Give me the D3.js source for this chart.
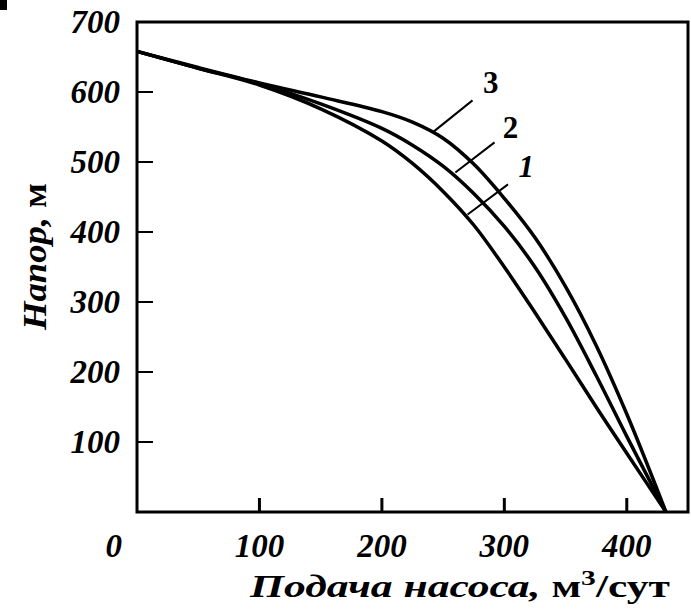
<!DOCTYPE html>
<html>
<head>
<meta charset="utf-8">
<script src="https://cdn.jsdelivr.net/npm/d3@7"></script>
<style>
  body { margin: 0; background: #fff; }
  svg text { font-family: "Liberation Serif", "Times New Roman", serif; font-weight: bold; fill: #000; }
</style>
</head>
<body>
<svg id="chart" width="691" height="616"></svg>
<script>
// pump head curves
const flow = [0, 50, 100, 150, 200, 225, 250, 275, 300, 325, 350, 375, 400, 432];
const head1 = [658, 634, 610, 576, 530, 498, 458, 410, 350, 285, 218, 150, 84, 0];
const head2 = [658, 634, 612, 583, 548, 524, 494, 455, 408, 350, 278, 195, 108, 0];
const head3 = [658, 635, 613, 593, 572, 557, 534, 497, 448, 392, 322, 238, 140, 0];

const xTicks = [100, 200, 300, 400];
const yTicks = [100, 200, 300, 400, 500, 600, 700];

// curve labels: text centre, leader start, leader end, all in data units
const curveLabels = [
  { name: '3', italic: false, at: [289, 614], from: [274, 588], to: [242, 543] },
  { name: '2', italic: false, at: [305, 550], from: [292, 528], to: [260, 485] },
  { name: '1', italic: true, at: [318, 493], from: [303, 468], to: [270, 425] },
];

const svg = d3.select('#chart');
const margin = { left: 137, top: 22, right: 3, bottom: 104 };
const width = +svg.attr('width') - margin.left - margin.right,
      height = +svg.attr('height') - margin.top - margin.bottom;

const x = d3.scaleLinear().domain([0, 450]).range([margin.left, margin.left + width]);
const y = d3.scaleLinear().domain([0, 700]).range([margin.top + height, margin.top]);

// small scan artefact in the corner
svg.append('rect').attr('x', 0).attr('y', 0).attr('width', 7).attr('height', 10).attr('fill', '#000');

// frame
svg.append('rect')
  .attr('x', x(0)).attr('y', y(700))
  .attr('width', x(450) - x(0)).attr('height', y(0) - y(700))
  .attr('fill', 'none').attr('stroke', '#000').attr('stroke-width', 3);

// inward ticks
svg.append('g').selectAll('line')
  .data(xTicks).enter().append('line')
  .attr('x1', (d) => x(d)).attr('x2', (d) => x(d))
  .attr('y1', y(0)).attr('y2', y(0) - 14)
  .attr('stroke', '#000').attr('stroke-width', 3);

svg.append('g').selectAll('line')
  .data(yTicks.filter((d) => d < 700)).enter().append('line')
  .attr('x1', x(0)).attr('x2', x(0) + 16)
  .attr('y1', (d) => y(d)).attr('y2', (d) => y(d))
  .attr('stroke', '#000').attr('stroke-width', 2);

// tick labels
svg.append('g').selectAll('text')
  .data(xTicks).enter().append('text')
  .attr('x', (d) => x(d)).attr('y', y(0) + 45)
  .attr('text-anchor', 'middle')
  .style('font-style', 'italic').style('font-size', '33px')
  .text((d) => d);

svg.append('text')
  .attr('x', x(0) - 15).attr('y', y(0) + 45)
  .attr('text-anchor', 'end')
  .style('font-style', 'italic').style('font-size', '33px')
  .text('0');

svg.append('g').selectAll('text')
  .data(yTicks).enter().append('text')
  .attr('x', x(0) - 17).attr('y', (d) => y(d) + 11)
  .attr('text-anchor', 'end')
  .style('font-style', 'italic').style('font-size', '33px')
  .text((d) => d);

// axis titles
const xTitle = svg.append('text')
  .attr('x', 250).attr('y', 597)
  .attr('textLength', 420)
  .attr('lengthAdjust', 'spacingAndGlyphs')
  .style('font-size', '31px');
xTitle.append('tspan').style('font-style', 'italic').text('Подача насоса, ');
xTitle.append('tspan').text('м');
xTitle.append('tspan').attr('dy', -12).style('font-size', '21px').text('3');
xTitle.append('tspan').attr('dy', 12).text('/сут');

const yTitle = svg.append('text')
  .attr('transform', 'translate(46,330) rotate(-90)')
  .attr('textLength', 147)
  .attr('lengthAdjust', 'spacingAndGlyphs')
  .style('font-size', '33px');
yTitle.append('tspan').style('font-style', 'italic').text('Напор, ');
yTitle.append('tspan').text('м');

// curves
const line = d3.line()
  .x((d) => x(d[0]))
  .y((d) => y(d[1]))
  .curve(d3.curveCatmullRom.alpha(0.5));

[head1, head2, head3].forEach((head) => {
  svg.append('path')
    .datum(flow.map((q, i) => [q, head[i]]))
    .attr('d', line)
    .attr('fill', 'none')
    .attr('stroke', '#000')
    .attr('stroke-width', 3.5);
});

// leaders and labels
curveLabels.forEach((c) => {
  svg.append('line')
    .attr('x1', x(c.from[0])).attr('y1', y(c.from[1]))
    .attr('x2', x(c.to[0])).attr('y2', y(c.to[1]))
    .attr('stroke', '#000').attr('stroke-width', 2);
  svg.append('text')
    .attr('x', x(c.at[0])).attr('y', y(c.at[1]))
    .attr('dy', '0.34em')
    .attr('text-anchor', 'middle')
    .style('font-style', c.italic ? 'italic' : 'normal')
    .style('font-size', '31px')
    .text(c.name);
});
</script>
</body>
</html>
